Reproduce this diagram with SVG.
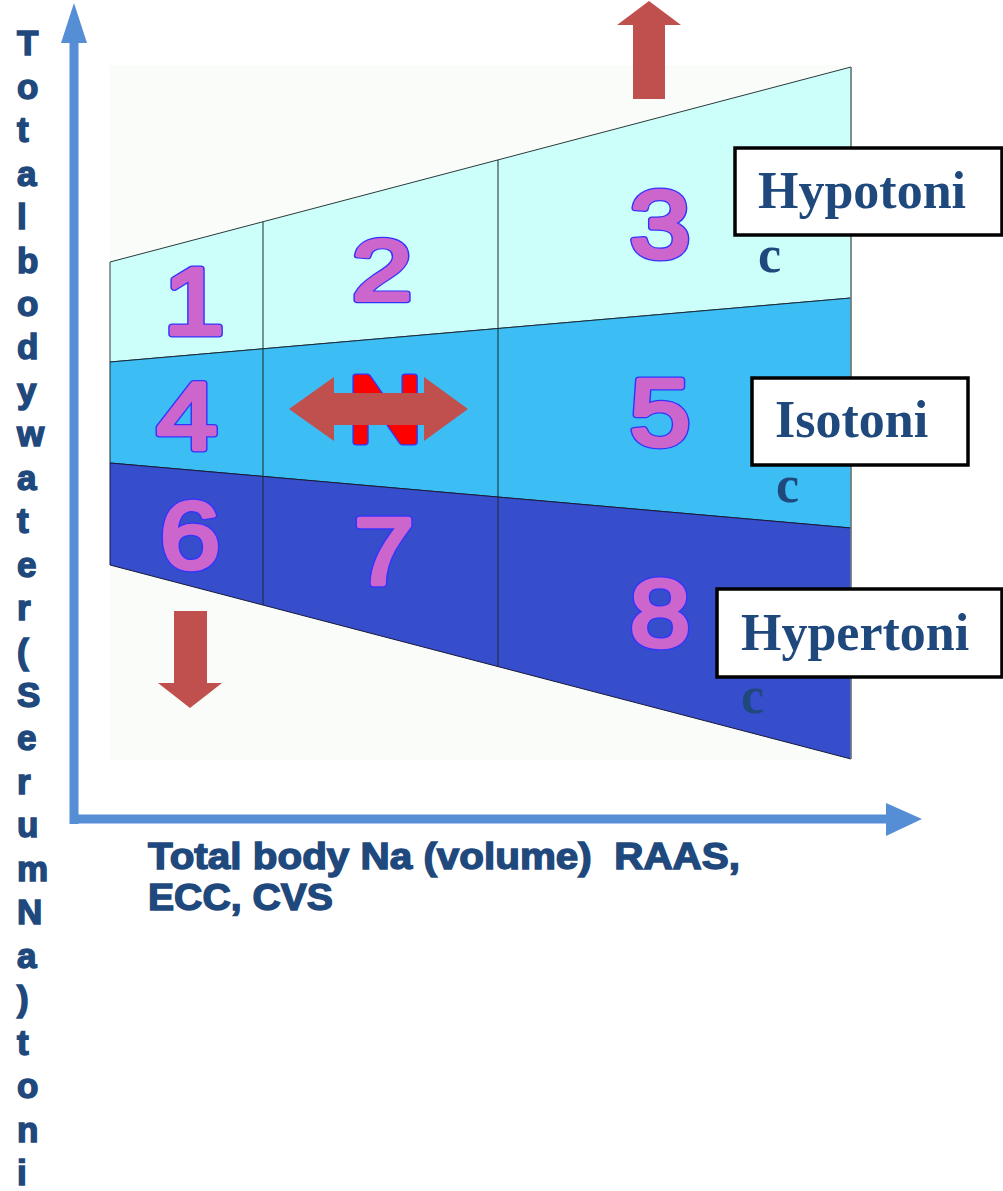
<svg xmlns="http://www.w3.org/2000/svg" width="1003" height="1191" viewBox="0 0 1003 1191">
<style>
.axis{stroke:#558ED5;stroke-width:9;fill:none}
.axhead{fill:#558ED5}
.band1{fill:#CCFEFA;stroke:#2a3a3a;stroke-width:1}
.band2{fill:#3CBEF4;stroke:#1a2a3a;stroke-width:1}
.band3{fill:#364ECC;stroke:#1a1a3a;stroke-width:1}
.div{stroke:#1a2a2a;stroke-width:1}
.dgo{font-family:"Liberation Sans",Arial,sans-serif;font-size:94px;text-anchor:middle;fill:#3333FF;stroke:#3333FF;stroke-width:7;stroke-linejoin:round;stroke-linecap:round}
.dg{font-family:"Liberation Sans",Arial,sans-serif;font-size:94px;text-anchor:middle;fill:#CC66CC;stroke:#CC66CC;stroke-width:4.5;stroke-linejoin:round;stroke-linecap:round}
.ng{fill:#FF0000;stroke:#FF0000}
.redarrow{fill:#C0504D}
.box{fill:#FFFFFF;stroke:#000000;stroke-width:3.5}
.lbl{font-family:"Liberation Serif","Times New Roman",serif;font-weight:bold;font-size:52px;fill:#1F497D}
.ax{font-family:"Liberation Sans",Arial,sans-serif;font-weight:bold;font-size:36px;fill:#1F497D;stroke:#1F497D;stroke-width:1.4}
.vx{font-family:"Liberation Sans",Arial,sans-serif;font-weight:bold;font-size:35px;fill:#1F497D;stroke:#1F497D;stroke-width:1.5}
</style>
<rect x="0" y="0" width="1003" height="1191" fill="#FFFFFF"/>
<rect x="110" y="65" width="741" height="695" fill="#F9FCF9"/>
<g id="bands">
<polygon class="band1" points="110,262 851,67 851,298 110,362"/>
<polygon class="band2" points="110,362 851,298 851,528 110,463"/>
<polygon class="band3" points="110,463 851,528 851,759 110,565"/>
<line class="div" x1="263" y1="222" x2="263" y2="605"/>
<line class="div" x1="498" y1="160" x2="498" y2="667"/>
<line x1="851" y1="67" x2="851" y2="759" stroke="#7a8a8a" stroke-width="1.5"/>
</g>
<g id="cell1" transform="translate(194,334) scale(1.15,1)"><text class="dgo">1</text><text class="dg">1</text></g>
<g id="cell2" transform="translate(382,300) scale(1.15,0.9)"><text class="dgo">2</text><text class="dg">2</text></g>
<g id="cell3" transform="translate(660,257) scale(1.15,1)"><text class="dgo">3</text><text class="dg">3</text></g>
<g id="cell4" transform="translate(187,449) scale(1.15,1)"><text class="dgo">4</text><text class="dg">4</text></g>
<g id="cell5" transform="translate(660,445) scale(1.15,1)"><text class="dgo">5</text><text class="dg">5</text></g>
<g id="cell6" transform="translate(190,568) scale(1.15,1)"><text class="dgo">6</text><text class="dg">6</text></g>
<g id="cell7" transform="translate(384,584) scale(1.15,1)"><text class="dgo">7</text><text class="dg">7</text></g>
<g id="cell8" transform="translate(660,646) scale(1.15,1)"><text class="dgo">8</text><text class="dg">8</text></g>
<g id="normal"><g transform="translate(385,442) scale(1.1,1)"><text class="dgo">N</text><text class="dg ng">N</text></g>
<polygon class="redarrow" points="289,409 334,377 334,393 424,393 424,377 468,409 424,441 424,425 334,425 334,441"/></g>
<g id="arrow-up"><polygon class="redarrow" points="649,1 681,25 665,25 665,99 633,99 633,25 617,25"/></g>
<g id="arrow-down"><polygon class="redarrow" points="190,708 222,683 207,683 207,611 174,611 174,683 158,683"/></g>
<g id="label-hypotonic"><rect class="box" x="735" y="148" width="267" height="87"/><text class="lbl" x="758" y="208">Hypotoni</text><text class="lbl" x="758" y="272">c</text></g>
<g id="label-isotonic"><rect class="box" x="752" y="378" width="216" height="87"/><text class="lbl" x="775" y="437">Isotoni</text><text class="lbl" x="776" y="502">c</text></g>
<g id="label-hypertonic"><rect class="box" x="717" y="589" width="285" height="88"/><text class="lbl" x="741" y="650">Hypertoni</text><text class="lbl" x="741" y="713">c</text></g>
<g id="connectors">
<line class="axis" x1="74" y1="38" x2="74" y2="824"/>
<polygon class="axhead" points="74,3 87,43 61,43"/>
<line class="axis" x1="70" y1="819" x2="890" y2="819"/>
<polygon class="axhead" points="922,819 886,803 886,836"/>
</g>
<g id="x-axis-label"><text class="ax" x="148" y="869" textLength="592" lengthAdjust="spacingAndGlyphs" xml:space="preserve">Total body Na (volume)  RAAS,</text><text class="ax" x="148" y="910" textLength="185" lengthAdjust="spacingAndGlyphs">ECC, CVS</text></g>
<g id="y-axis-label" class="vx">
<text x="17" y="55">T</text><text x="17" y="98.5">o</text><text x="17" y="142">t</text><text x="17" y="185.5">a</text><text x="17" y="229">l</text><text x="17" y="272.5">b</text><text x="17" y="316">o</text><text x="17" y="359">d</text><text x="17" y="403">y</text><text x="17" y="446">w</text><text x="17" y="490">a</text><text x="17" y="533">t</text><text x="17" y="577">e</text><text x="17" y="620">r</text><text x="17" y="664">(</text><text x="17" y="707">S</text><text x="17" y="750">e</text><text x="17" y="794">r</text><text x="17" y="837">u</text><text x="17" y="881">m</text><text x="17" y="924">N</text><text x="17" y="968">a</text><text x="17" y="1011">)</text><text x="17" y="1055">t</text><text x="17" y="1098">o</text><text x="17" y="1142">n</text><text x="17" y="1185">i</text>
</g>
</svg>
